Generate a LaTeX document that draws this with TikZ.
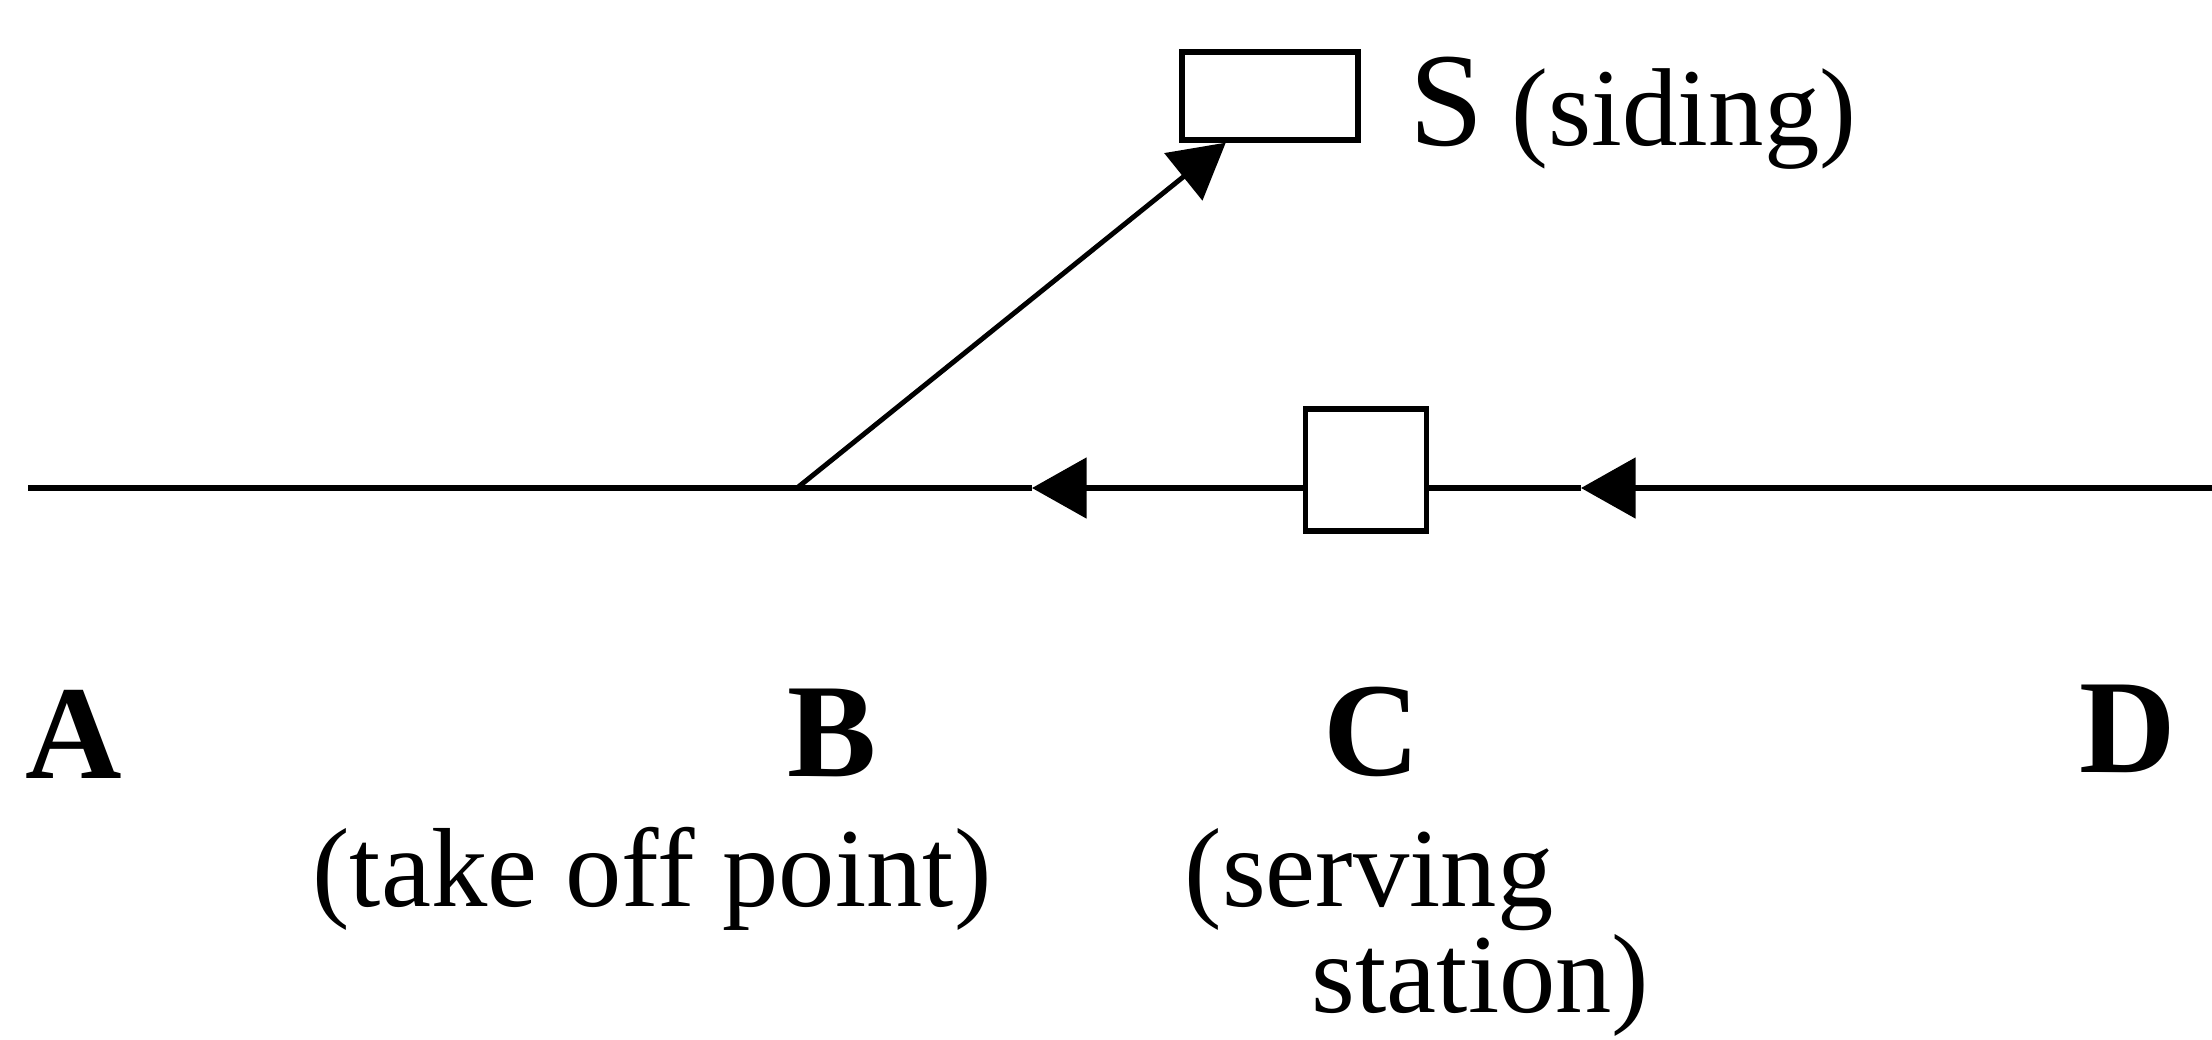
\documentclass[tikz,border=0pt]{standalone}
\usepackage{fontspec}
\setmainfont{Liberation Serif}
\usetikzlibrary{arrows.meta,calc}
\begin{document}
\begin{tikzpicture}[x=0.01cm,y=-0.01cm,
  track/.style={line width=1.6pt},
  headed/.style={track,-{Triangle[length=15.5pt,width=17pt]}},
  box/.style={draw,line width=1.5pt,inner sep=0pt,fill=white},
  pointlabel/.style={font=\fontsize{38}{40}\selectfont\bfseries,inner sep=0pt,anchor=base},
  note/.style={font=\fontsize{32}{36}\selectfont,inner sep=0pt}]
\useasboundingbox (0,0) rectangle (2212,1039);

% stations on the track
\coordinate (Aend) at (28,488);
\coordinate (Bpt)  at (797,488);
\coordinate (Dend) at (2212,488);
\coordinate (tipBC) at (1032,488);
\coordinate (tipCD) at (1581,488);

% siding and serving station boxes
\node[box,minimum width=1.76cm,minimum height=0.88cm] (S) at (1270,96) {};
\node[box,minimum width=1.21cm,minimum height=1.22cm] (C) at (1366,470) {};
\node[anchor=base west,inner sep=0pt] (Slabel) at (1409,145)
  {\fontsize{38}{40}\selectfont S\fontsize{31.5}{34}\selectfont{} (siding)};

% main track with direction arrows
\draw[headed] (Dend) -- (tipCD);
\draw[track] (tipCD) -- (C.east |- Bpt);
\draw[headed] (C.west |- Bpt) -- (tipBC);
\draw[track] (tipBC) -- (Aend);

% branch to the siding
\coordinate (Stip) at ($(S.south west)!0.256!(S.south east)$);
\draw[headed,line width=1.4pt] (Bpt) -- (Stip);

% point labels
\node[pointlabel] (A) at (74,778) {A};
\node[pointlabel] (B) at (832,776) {B};
\node[pointlabel] (Cl) at (1372,775) {C};
\node[pointlabel] (D) at (2128,772) {D};

\node[note,anchor=base] (Bnote) at (652,906) {(take off point)};
\node[note,anchor=base west] (Cnote1) at (1184,906) {(serving};
\node[note,anchor=base west] (Cnote2) at (1311,1012) {station)};
\end{tikzpicture}
\end{document}
